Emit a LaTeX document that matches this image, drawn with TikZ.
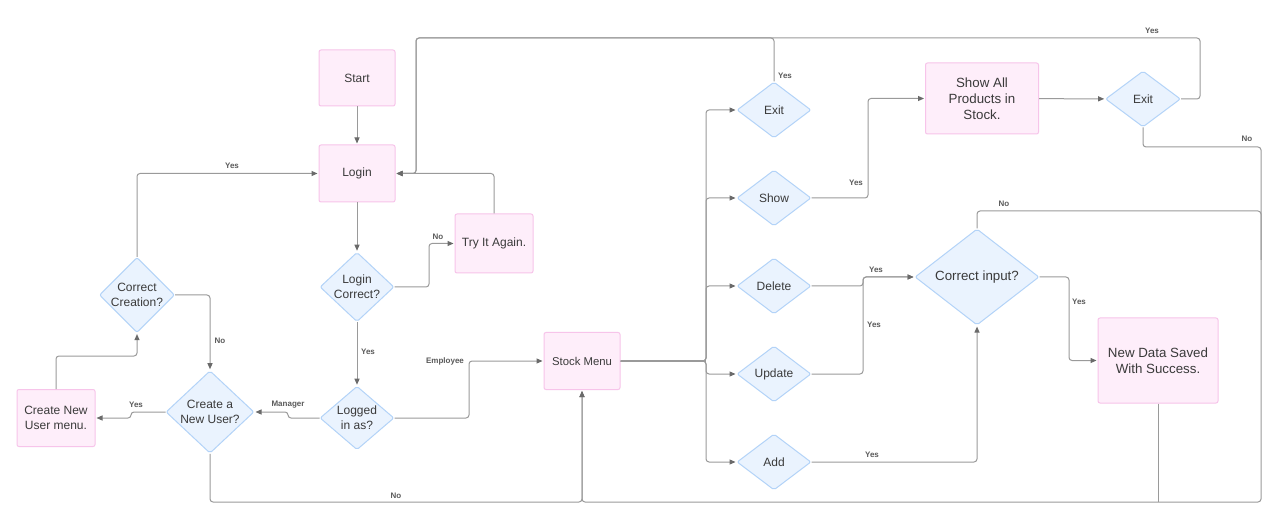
\documentclass[tikz,border=0pt]{standalone}
\usepackage{fontspec}
\setmainfont{Liberation Sans}
\usetikzlibrary{shapes.geometric,arrows.meta}
\newdimen\pxu \pxu=0.75pt
\definecolor{boxfill}{HTML}{FEEEFA}
\definecolor{boxdraw}{HTML}{F7C4EA}
\definecolor{dfill}{HTML}{EAF3FE}
\definecolor{ddraw}{HTML}{B3D3F8}
\definecolor{linec}{HTML}{9A9A9A}
\definecolor{tipc}{HTML}{6A6A6A}
\definecolor{txt}{HTML}{3A3A3A}
\definecolor{lbl}{HTML}{5A5A5A}
\tikzset{
  box/.style={rectangle, rounded corners=1.5pt, draw=boxdraw, fill=boxfill, line width=0.75pt, text=txt, font=\fontsize{9}{11}\selectfont, align=center, inner sep=0pt},
  dec/.style={diamond, rounded corners=1.5pt, draw=ddraw, fill=dfill, line width=0.75pt, text=txt, font=\fontsize{9}{11}\selectfont, align=center, inner sep=0pt},
  conn/.style={draw=linec, line width=0.75pt, rounded corners=2.25pt, -{Triangle[length=4.5pt,width=3.75pt,color=tipc]}, shorten >=0.75pt},
  link/.style={draw=linec, line width=0.75pt, rounded corners=2.25pt},
  lab/.style={font=\bfseries\fontsize{6}{7}\selectfont, text=lbl, inner sep=0pt}
}
\begin{document}
\begin{tikzpicture}[x=0.75pt,y=-0.75pt]
\useasboundingbox[fill=white] (0,0) rectangle (1284,516);
% nodes
\node[box,minimum width=76\pxu,minimum height=56\pxu] (start) at (357,78) {Start};
\node[box,minimum width=76\pxu,minimum height=57\pxu] (login) at (357,173.5) {Login};
\node[box,minimum width=78\pxu,minimum height=59\pxu] (try) at (494,243.5) {Try It Again.};
\node[dec,minimum width=74\pxu,minimum height=56\pxu] (lc) at (357,287) {Login\\Correct?};
\node[dec,minimum width=74\pxu,minimum height=56\pxu] (lia) at (357,418) {Logged\\in as?};
\node[dec,minimum width=88\pxu,minimum height=68\pxu] (cnu) at (210,412) {Create a\\New User?};
\node[box,minimum width=78\pxu,minimum height=57\pxu] (cnum) at (56,418) {Create New\\User menu.};
\node[dec,minimum width=74\pxu,minimum height=56\pxu] (cc) at (137,295) {Correct\\Creation?};
\node[box,minimum width=76\pxu,minimum height=57\pxu,font=\fontsize{8.5}{10}\selectfont] (sm) at (582,361) {Stock Menu};
\node[dec,minimum width=74\pxu,minimum height=56\pxu] (exit) at (774,110) {Exit};
\node[dec,minimum width=74\pxu,minimum height=56\pxu] (show) at (774,198) {Show};
\node[dec,minimum width=74\pxu,minimum height=56\pxu] (del) at (774,286) {Delete};
\node[dec,minimum width=74\pxu,minimum height=56\pxu] (upd) at (774,374) {Update};
\node[dec,minimum width=74\pxu,minimum height=56\pxu] (add) at (774,462) {Add};
\node[box,minimum width=113\pxu,minimum height=71\pxu,font=\fontsize{10}{12}\selectfont] (sap) at (982,98.5) {Show All\\Products in\\Stock.};
\node[dec,minimum width=75\pxu,minimum height=56\pxu] (exit2) at (1143,99) {Exit};
\node[dec,minimum width=124\pxu,minimum height=93\pxu,font=\fontsize{10}{12}\selectfont] (ci) at (977,277) {Correct input?};
\node[box,minimum width=120\pxu,minimum height=85\pxu,font=\fontsize{10}{12}\selectfont] (nds) at (1158,360.5) {New Data Saved\\With Success.};
% left connectors
\draw[conn] (start) -- (login);
\draw[conn] (login) -- (lc);
\draw[conn] (lc.east) -- (429,287) |- (try.west);
\node[lab] at (438,237) {No};
\draw[conn] (try.north) |- (login.east);
\draw[conn] (lc) -- (lia);
\node[lab] at (368,352) {Yes};
\draw[conn] (lia.east) -- (469,418) |- (sm.west);
\node[lab] at (445,361) {Employee};
\draw[conn] (lia.west) -- (288,418) |- (cnu.east);
\node[lab] at (288,405) {Manager};
\draw[conn] (cnu.west) -- (131,412) |- (cnum.east);
\node[lab] at (136,405) {Yes};
\draw[conn] (cnum.north) |- (137,356) -- (cc.south);
\draw[conn] (cc.north) |- (login.west);
\node[lab] at (232,166) {Yes};
\draw[conn] (cc.east) -| (cnu.north);
\node[lab] at (220,341) {No};
\draw[conn] (cnu.south) |- (582,502) -- (sm.south);
\node[lab] at (396,496) {No};
% right connectors
\foreach \n in {exit,show,del,upd,add}{
  \draw[conn] (sm.east) -- (706,361) |- (\n.west);
}
\draw[link,line width=1.2pt] (sm.east) -- (706,361);
\draw[conn] (show.east) -- (868,198) |- (sap.west);
\node[lab] at (856,183) {Yes};
\draw[conn] (sap) -- (exit2);
\draw[conn] (exit2.east) -- (1200,99) |- (416,38) |- (login.east);
\node[lab] at (1152,31) {Yes};
\draw[conn] (exit.north) -- (774,38) -- (416,38) |- (login.east);
\node[lab] at (785,76) {Yes};
\draw[conn] (exit2.south) |- (1261,147) |- (582,502) -- (sm.south);
\node[lab] at (1247,139) {No};
\draw[link] (ci.north) |- (1261,211) -- (1261,260);
\node[lab] at (1004,204) {No};
\draw[link] (nds.south) -- (1158,502);
\draw[conn] (del.east) -- (863,286) |- (ci.west);
\node[lab] at (876,270) {Yes};
\draw[conn] (upd.east) -- (863,374) |- (ci.west);
\node[lab] at (874,325) {Yes};
\draw[conn] (add.east) -| (ci.south);
\node[lab] at (872,455) {Yes};
\draw[conn] (ci.east) -- (1069,277) |- (nds.west);
\node[lab] at (1079,302) {Yes};
\end{tikzpicture}
\end{document}
